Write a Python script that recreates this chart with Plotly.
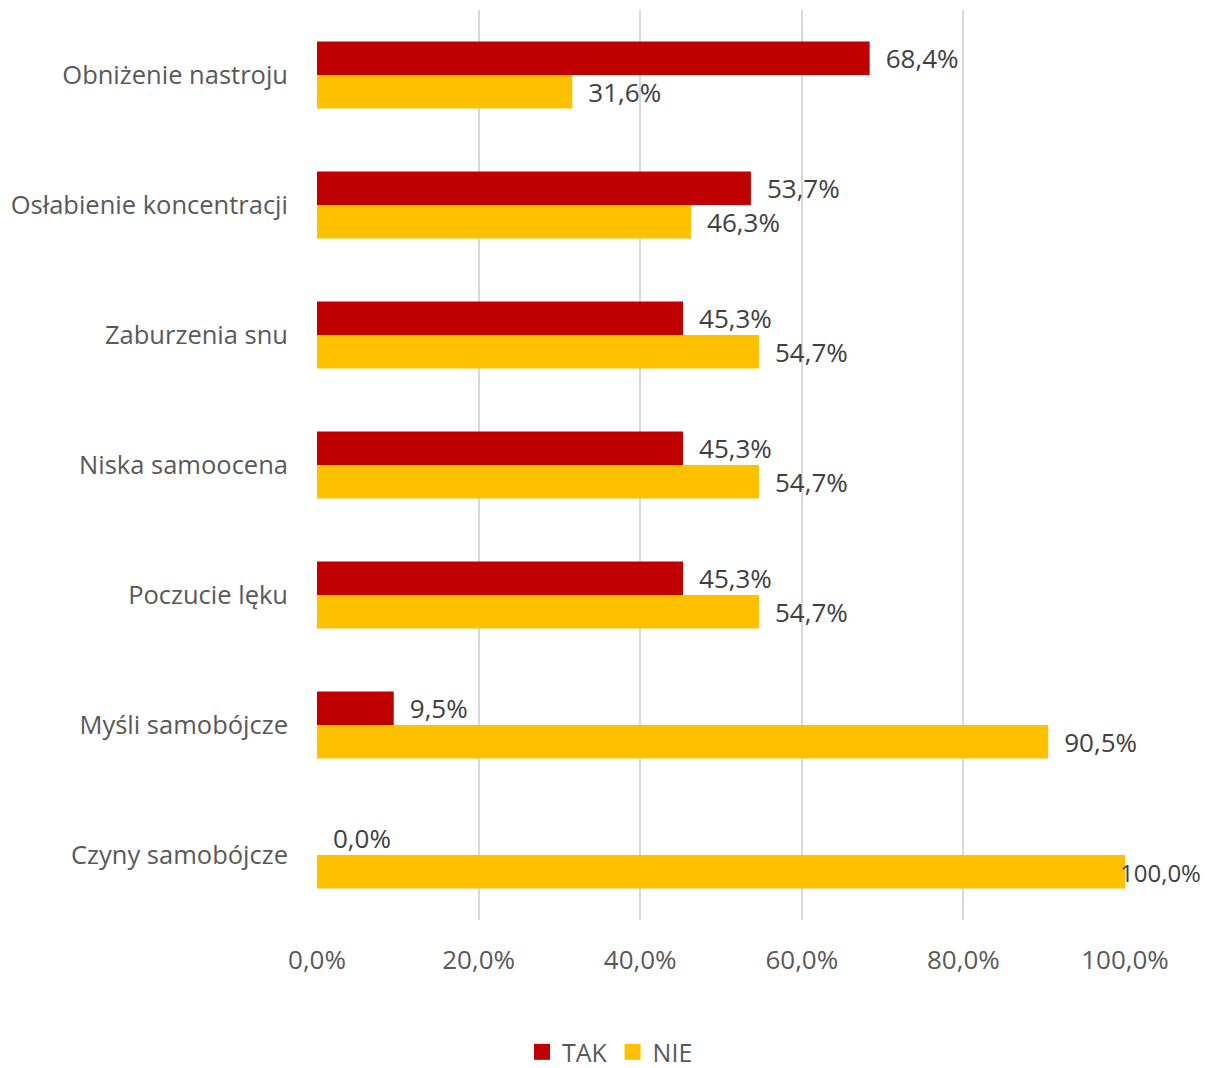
import plotly.graph_objects as go

categories = [
    "Obniżenie nastroju",
    "Osłabienie koncentracji",
    "Zaburzenia snu",
    "Niska samoocena",
    "Poczucie lęku",
    "Myśli samobójcze",
    "Czyny samobójcze",
]
tak = [68.4, 53.7, 45.3, 45.3, 45.3, 9.5, 0.0]
nie = [31.6, 46.3, 54.7, 54.7, 54.7, 90.5, 100.0]
x_ticks = [0, 20, 40, 60, 80, 100]
x_tick_labels = ["0,0%", "20,0%", "40,0%", "60,0%", "80,0%", "100,0%"]

FONT = "Open Sans"
series = [("TAK", tak, "#C00000"), ("NIE", nie, "#FFC000")]

fig = go.Figure()

for name, values, color in series:
    # a full-width bar has no room for an outside label; it gets an annotation below
    templates = ["\u2002%{x:.1f}%" if v < 100 else "" for v in values]
    fig.add_trace(
        go.Bar(
            y=categories,
            x=values,
            name=name,
            orientation="h",
            marker=dict(color=color, line=dict(width=0)),
            texttemplate=templates,
            textposition="outside",
            textfont=dict(family=FONT, size=26, color="#404040"),
            cliponaxis=False,
            constraintext="none",
            showlegend=False,
        )
    )

# label for the full bar, pulled back over the bar end like the original
for cat, v in zip(categories, nie):
    if v >= 100:
        fig.add_annotation(
            x=v,
            y=cat,
            text=f"{v:.1f}%".replace(".", ","),
            showarrow=False,
            xanchor="left",
            xshift=-7,
            yshift=-17,
            font=dict(family=FONT, size=24, color="#404040"),
        )

# legend entries with larger square keys
for name, values, color in series:
    fig.add_trace(
        go.Scatter(
            x=[None],
            y=[None],
            name=name,
            mode="markers",
            marker=dict(symbol="square", size=17, color=color),
        )
    )

# the page adds an 8px body margin, so the figure is trimmed by 8px
fig.update_layout(
    width=1204,
    height=1060,
    barmode="group",
    bargap=0.485,
    bargroupgap=0,
    separators=", ",
    plot_bgcolor="white",
    paper_bgcolor="white",
    margin=dict(l=309, r=87, t=2, b=148),
    font=dict(family=FONT, size=25, color="#595959"),
    legend=dict(
        orientation="h",
        xref="container",
        yref="container",
        x=0.5,
        xanchor="center",
        y=0.015,
        yanchor="middle",
        font=dict(family=FONT, size=25, color="#595959"),
        itemwidth=30,
    ),
)

fig.update_xaxes(
    range=[0, 100],
    tickvals=x_ticks,
    ticktext=x_tick_labels,
    showgrid=True,
    gridcolor="#D9D9D9",
    gridwidth=2,
    zeroline=False,
    showline=False,
    ticks="",
    ticklabelstandoff=22,
    automargin=False,
    tickfont=dict(family=FONT, size=26, color="#595959"),
)

fig.update_yaxes(
    autorange="reversed",
    showgrid=False,
    showline=False,
    ticks="",
    ticklabelstandoff=28,
    automargin=False,
    tickfont=dict(family=FONT, size=25.5, color="#595959"),
)

fig.write_html("out.html")
